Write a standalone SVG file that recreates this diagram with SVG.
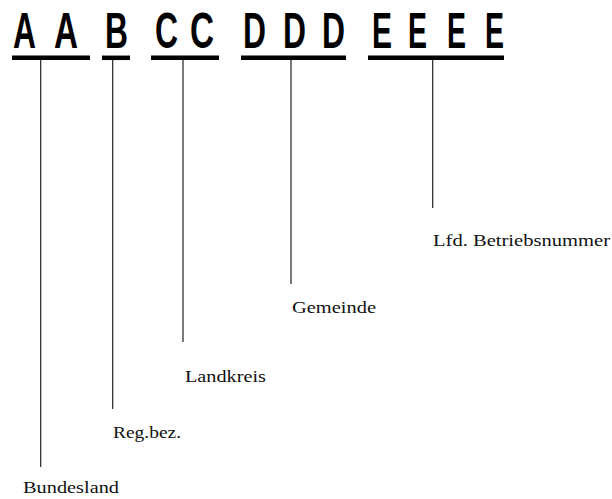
<svg xmlns="http://www.w3.org/2000/svg" width="612" height="499" viewBox="0 0 612 499">
<style>
.big{font-family:"Liberation Sans",Arial,sans-serif;font-weight:bold;font-size:50px;fill:#000}
.ul{stroke:#000;stroke-width:4.5}
.lead{stroke:#222;stroke-width:1.2}
.lbl{font-family:"Liberation Serif","Times New Roman",serif;font-size:17px;fill:#111}
</style>
<rect width="612" height="499" fill="#fff"/>
<g id="code">
<text class="big" x="13" y="48" textLength="23" lengthAdjust="spacingAndGlyphs">A</text>
<text class="big" x="54" y="48" textLength="24" lengthAdjust="spacingAndGlyphs">A</text>
<text class="big" x="105" y="48" textLength="23" lengthAdjust="spacingAndGlyphs">B</text>
<text class="big" x="155" y="48" textLength="23" lengthAdjust="spacingAndGlyphs">C</text>
<text class="big" x="190" y="48" textLength="24" lengthAdjust="spacingAndGlyphs">C</text>
<text class="big" x="243" y="48" textLength="23" lengthAdjust="spacingAndGlyphs">D</text>
<text class="big" x="283" y="48" textLength="23" lengthAdjust="spacingAndGlyphs">D</text>
<text class="big" x="322" y="48" textLength="23" lengthAdjust="spacingAndGlyphs">D</text>
<text class="big" x="372" y="48" textLength="20" lengthAdjust="spacingAndGlyphs">E</text>
<text class="big" x="408" y="48" textLength="19" lengthAdjust="spacingAndGlyphs">E</text>
<text class="big" x="447" y="48" textLength="19" lengthAdjust="spacingAndGlyphs">E</text>
<text class="big" x="485" y="48" textLength="19" lengthAdjust="spacingAndGlyphs">E</text>
<line class="ul" x1="12" y1="57.8" x2="90" y2="57.8"/>
<line class="ul" x1="102" y1="57.8" x2="130" y2="57.8"/>
<line class="ul" x1="151" y1="57.8" x2="219" y2="57.8"/>
<line class="ul" x1="241" y1="57.8" x2="346" y2="57.8"/>
<line class="ul" x1="368" y1="57.8" x2="504" y2="57.8"/>
</g>
<g id="connectors">
<line class="lead" x1="40.7" y1="60" x2="40.7" y2="467"/>
<line class="lead" x1="112.7" y1="60" x2="112.7" y2="409"/>
<line class="lead" x1="183" y1="60" x2="183" y2="342"/>
<line class="lead" x1="291" y1="60" x2="291" y2="284"/>
<line class="lead" x1="432.7" y1="60" x2="432.7" y2="208"/>
</g>
<g id="bundesland"><text class="lbl" x="23" y="493" textLength="96" lengthAdjust="spacingAndGlyphs">Bundesland</text></g>
<g id="regbez"><text class="lbl" x="113" y="438" textLength="68" lengthAdjust="spacingAndGlyphs">Reg.bez.</text></g>
<g id="landkreis"><text class="lbl" x="185" y="382" textLength="81" lengthAdjust="spacingAndGlyphs">Landkreis</text></g>
<g id="gemeinde"><text class="lbl" x="292" y="313" textLength="84" lengthAdjust="spacingAndGlyphs">Gemeinde</text></g>
<g id="betriebsnummer"><text class="lbl" x="433" y="246" textLength="177" lengthAdjust="spacingAndGlyphs">Lfd. Betriebsnummer</text></g>
</svg>
